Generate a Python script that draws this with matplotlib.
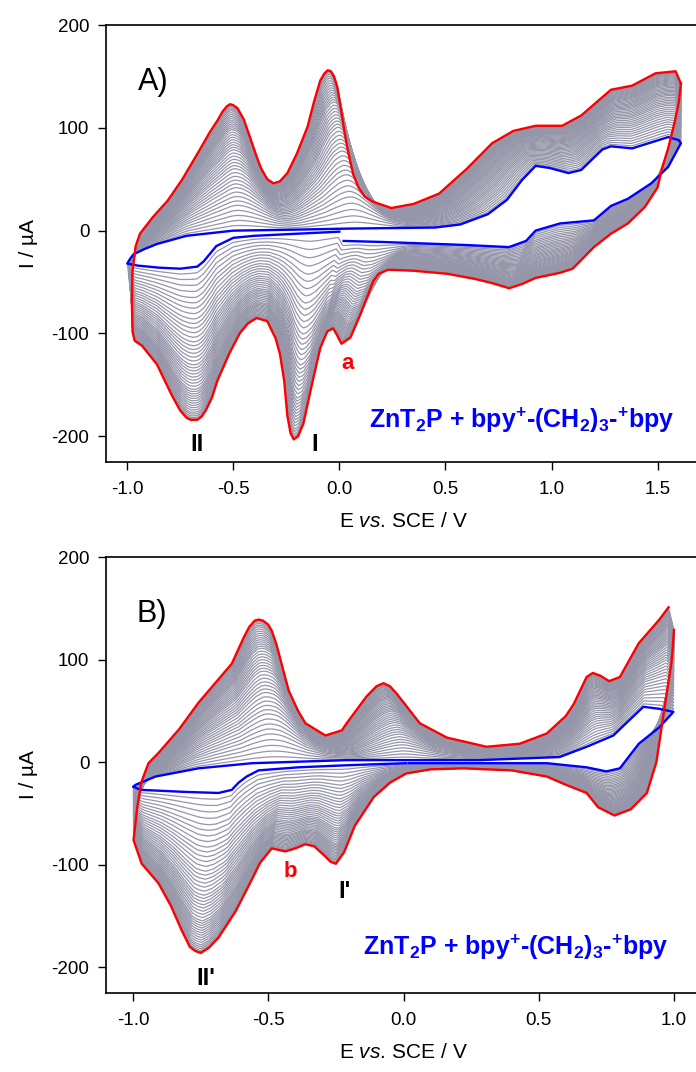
import matplotlib

matplotlib.use("Agg")

import matplotlib.pyplot as plt
import numpy as np

plt.rcParams["font.family"] = ["Liberation Sans", "DejaVu Sans"]
plt.rcParams["axes.unicode_minus"] = False
plt.rcParams["mathtext.fontset"] = "custom"
plt.rcParams["mathtext.rm"] = "Liberation Sans"
plt.rcParams["mathtext.it"] = "Liberation Sans:italic"
plt.rcParams["mathtext.bf"] = "Liberation Sans:bold"

# panel A: last cycle (red) and first cycle (blue), E in V, I in uA
RED_A_E = [1.61, 1.60, 1.58, 1.55, 1.52, 1.50, 1.44, 1.36, 1.28, 1.20, 1.10, 1.04, 0.925, 0.86,
           0.80, 0.72, 0.64, 0.51, 0.35, 0.23, 0.185, 0.16, 0.10, 0.052, 0.01, -0.015, -0.03,
           -0.057, -0.09, -0.13, -0.17, -0.195, -0.215, -0.23, -0.245, -0.26, -0.28, -0.30,
           -0.34, -0.39, -0.43, -0.47, -0.52, -0.575, -0.60, -0.63, -0.65, -0.67, -0.70, -0.72,
           -0.75, -0.79, -0.86, -0.93, -0.965, -0.975, -0.978, -0.975,
           -0.96, -0.94, -0.88, -0.81, -0.74, -0.66, -0.61, -0.575, -0.55, -0.53, -0.515, -0.50,
           -0.48, -0.45, -0.42, -0.39, -0.37, -0.34, -0.31, -0.28, -0.245, -0.20, -0.15, -0.12,
           -0.09, -0.07, -0.055, -0.04, -0.025, -0.01, 0.01, 0.025, 0.04, 0.065, 0.09, 0.12,
           0.16, 0.245, 0.35, 0.47, 0.60, 0.72, 0.82, 0.925, 1.05, 1.14, 1.28, 1.38,
           1.49, 1.585, 1.61]
RED_A_I = [143, 125, 105, 80, 60, 42, 23, 7, -3, -16, -37, -41, -46, -52,
           -56, -51, -47, -42, -39, -38, -42, -49, -81, -104, -110, -100, -95,
           -98, -114, -150, -188, -200, -203, -197, -180, -146, -120, -105,
           -88, -85, -90, -100, -120, -146, -162, -175, -181, -184, -184, -182,
           -175, -160, -130, -112, -107, -98, -70, -39,
           -15, -3, 13, 29, 50, 78, 96, 107, 116, 121, 123, 122,
           119, 108, 90, 72, 61, 50, 46, 48, 56, 75, 101, 125,
           146, 153, 156, 155, 150, 140, 115, 95, 78, 55, 42, 33,
           28, 22, 26, 36, 60, 85, 97, 102, 102, 112, 137, 141,
           153, 155, 143]

BLUE_A_E = [0.0, -0.2, -0.4, -0.5, -0.58, -0.64, -0.67, -0.75, -0.85, -0.95, -1.0, -0.985, -0.97,
            -0.92, -0.86, -0.72, -0.5, -0.2, 0.04, 0.45, 0.57, 0.70, 0.79, 0.86, 0.925, 0.99, 1.08,
            1.14, 1.24, 1.28, 1.38, 1.55, 1.60, 1.61, 1.55, 1.47, 1.36, 1.28, 1.20, 1.04, 0.925,
            0.88, 0.80, 0.60, 0.47, 0.20, 0.02]
BLUE_A_I = [-1, -3, -5, -7, -15, -30, -35, -37, -36, -34, -32, -27, -23,
            -18, -13, -5, 0, 1, 2, 3, 6, 16, 30, 49, 63, 61, 56,
            59, 79, 82, 80, 91, 88, 85, 62, 46, 31, 24, 10, 7, 0,
            -10, -16, -14, -13, -11, -10]

# panel B
RED_B_E = [1.0, 0.995, 0.99, 0.975, 0.96, 0.935, 0.90, 0.84, 0.78, 0.72, 0.677, 0.60, 0.53, 0.40,
           0.22, 0.10, 0.01, -0.05, -0.11, -0.18, -0.22, -0.25, -0.27, -0.289, -0.33, -0.363,
           -0.40, -0.437, -0.487, -0.53, -0.562, -0.62, -0.684, -0.72, -0.75, -0.77, -0.79, -0.82,
           -0.86, -0.906, -0.968, -0.998, -0.985, -0.97, -0.943, -0.906, -0.83, -0.758, -0.635,
           -0.59, -0.57, -0.55, -0.536, -0.52, -0.50, -0.487, -0.47, -0.455, -0.425, -0.39, -0.363,
           -0.289, -0.228, -0.21, -0.137, -0.10, -0.074, -0.05, -0.026, 0.06, 0.16, 0.307, 0.43,
           0.53, 0.60, 0.63, 0.677, 0.70, 0.73, 0.76, 0.80, 0.87, 0.946, 0.98]
RED_B_I = [129, 110, 96, 70, 44, 0, -30, -46, -52, -44, -30, -22, -14, -8,
           -6, -7, -11, -20, -34, -62, -88, -99, -97, -92, -82, -80,
           -84, -87, -84, -98, -115, -145, -171, -181, -186, -184, -180, -164,
           -140, -118, -99, -76, -45, -20, -1, 9, 32, 58, 96,
           122, 132, 138, 139, 138, 134, 128, 115, 100, 70, 50, 38,
           26, 31, 38, 64, 74, 77, 74, 67, 38, 24, 15, 18,
           28, 45, 57, 83, 87, 84, 79, 83, 116, 139, 151]

BLUE_B_E = [0.01, -0.21, -0.388, -0.536, -0.58, -0.61, -0.635, -0.684, -0.806, -0.97, -1.0, -0.99,
            -0.917, -0.758, -0.56, -0.21, 0.28, 0.577, 0.677, 0.776, 0.835, 0.887, 0.946, 0.998,
            0.946, 0.87, 0.80, 0.75, 0.677, 0.53, 0.20, 0.02]
BLUE_B_I = [-1, -3, -5, -8, -14, -20, -27, -30, -29, -27, -24, -22,
            -14, -6, -1, 2, 2, 5, 15, 26, 41, 54, 52, 49,
            34, 18, -6, -9, -5, -1, -1, -1]

# position of each intermediate (gray) cycle between the first and the last one
CYCLE_FRACTIONS = [0.04, 0.08, 0.12, 0.16, 0.20, 0.235, 0.27, 0.305, 0.34, 0.37, 0.40, 0.43,
                   0.46, 0.49, 0.515, 0.54, 0.565, 0.59, 0.615, 0.64, 0.66, 0.68, 0.70, 0.72,
                   0.74, 0.76, 0.78, 0.80, 0.815, 0.83, 0.845, 0.86, 0.875, 0.89, 0.905, 0.92,
                   0.935, 0.95, 0.962, 0.974, 0.985, 0.993]

GRAY = "#9696aa"
LABEL = r"ZnT$_\mathbf{2}$P + bpy$^\mathbf{+}$-(CH$_\mathbf{2}$)$_\mathbf{3}$-$^\mathbf{+}$bpy"
XLABEL = r"$\mathrm{E}\ \mathit{vs.}\,\mathrm{SCE\ /\ V}$"


def _branches(E, I, n=400):
    E = np.asarray(E, float)
    I = np.asarray(I, float)
    k = int(np.argmax(E))
    E = np.roll(E, -k)
    I = np.roll(I, -k)
    E = np.append(E, E[0])
    I = np.append(I, I[0])
    m = int(np.argmin(E))
    out = []
    for sl in (slice(0, m + 1), slice(m, None)):
        e, i = E[sl], I[sl]
        step = np.abs(np.diff(e)) + 0.001 * np.abs(np.diff(i)) + 1e-6
        u = np.concatenate([[0], np.cumsum(step)])
        u = u / u[-1]
        grid = np.linspace(0, 1, n)
        out.append((np.interp(grid, u, e), np.interp(grid, u, i)))
    return out


def _draw_cycles(ax, red_e, red_i, blue_e, blue_i):
    red_br = _branches(red_e, red_i)
    blue_br = _branches(blue_e, blue_i)
    for w in CYCLE_FRACTIONS:
        es, cs = [], []
        for (re_, ri), (be, bi) in zip(red_br, blue_br):
            es.append(be + w * (re_ - be))
            cs.append(bi + w * (ri - bi))
        ax.plot(np.concatenate(es), np.concatenate(cs), color=GRAY, lw=0.9, zorder=1)
    ax.plot(blue_e, blue_i, color="#0000ff", lw=1.7, zorder=2)
    ax.plot(red_e, red_i, color="#ff0000", lw=1.7, zorder=3)


def _style(ax, xlim, xticks):
    ax.set_xlim(*xlim)
    ax.set_ylim(-225, 200)
    ax.set_xticks(xticks)
    ax.set_xticklabels([f"{t:.1f}" for t in xticks])
    ax.set_yticks([-200, -100, 0, 100, 200])
    ax.spines["right"].set_visible(False)
    for s in ax.spines.values():
        s.set_linewidth(1.2)
    ax.tick_params(axis="both", direction="out", length=6, width=1, labelsize=13.5)
    ax.tick_params(axis="x", pad=8)
    ax.tick_params(axis="y", pad=6)
    ax.set_xlabel(XLABEL, fontsize=15, labelpad=10)
    ax.set_ylabel("I / \u00b5A", fontsize=15, labelpad=10)


fig = plt.figure(figsize=(6.96, 10.72), dpi=100)
ax_a = fig.add_axes([106 / 696, 610 / 1072, 594 / 696, 437 / 1072])
ax_b = fig.add_axes([106 / 696, 79 / 1072, 595 / 696, 436 / 1072])

_draw_cycles(ax_a, RED_A_E, RED_A_I, BLUE_A_E, BLUE_A_I)
_style(ax_a, (-1.1, 1.7), [-1.0, -0.5, 0.0, 0.5, 1.0, 1.5])
ax_a.text(-0.948, 137, "A)", fontsize=22, ha="left", va="baseline")
ax_a.text(0.04, -135, "a", fontsize=16, color="#ff0000", weight="bold", ha="center", va="baseline")
ax_a.text(-0.67, -214, "II", fontsize=17, weight="bold", ha="center", va="baseline")
ax_a.text(-0.118, -214, "I", fontsize=17, weight="bold", ha="center", va="baseline")
ax_a.text(0.86, -192, LABEL, fontsize=18, color="#0000ff", weight="bold", ha="center", va="baseline")

_draw_cycles(ax_b, RED_B_E, RED_B_I, BLUE_B_E, BLUE_B_I)
_style(ax_b, (-1.1, 1.1), [-1.0, -0.5, 0.0, 0.5, 1.0])
ax_b.text(-0.987, 137, "B)", fontsize=22, ha="left", va="baseline")
ax_b.text(-0.418, -112, "b", fontsize=16, color="#ff0000", weight="bold", ha="center", va="baseline")
ax_b.text(-0.73, -217, "II'", fontsize=17, weight="bold", ha="center", va="baseline")
ax_b.text(-0.22, -132, "I'", fontsize=17, weight="bold", ha="center", va="baseline")
ax_b.text(0.414, -188, LABEL, fontsize=18, color="#0000ff", weight="bold", ha="center", va="baseline")

fig.savefig("out.png", dpi=100)
